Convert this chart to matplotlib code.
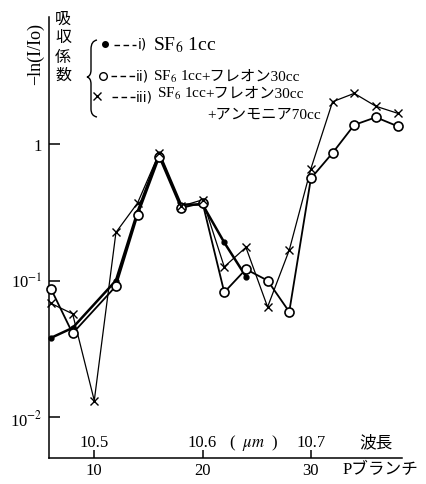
import matplotlib
matplotlib.use("Agg")
import matplotlib.pyplot as plt
from matplotlib.lines import Line2D
from matplotlib.path import Path
from matplotlib.patches import PathPatch

plt.rcParams['font.family'] = ['Liberation Serif', 'Noto Sans CJK JP']
plt.rcParams['mathtext.fontset'] = 'stix'

# P branch line numbers and absorption coefficient -ln(I/Io)
p_i = [6, 8, 12, 14, 16, 18, 20, 22, 24]
v_i = [0.038, 0.045, 0.10, 0.32, 0.85, 0.36, 0.36, 0.19, 0.107]

p_ii = [6, 8, 12, 14, 16, 18, 20, 22, 24, 26, 28, 30, 32, 34, 36, 38]
v_ii = [0.087, 0.041, 0.091, 0.30, 0.80, 0.34, 0.37, 0.082, 0.121, 0.100,
        0.059, 0.56, 0.86, 1.38, 1.57, 1.35]

p_iii = [6, 8, 10, 12, 14, 16, 18, 20, 22, 24, 26, 28, 30, 32, 34, 36, 38]
v_iii = [0.068, 0.057, 0.0132, 0.225, 0.37, 0.86, 0.35, 0.39, 0.126, 0.175,
         0.064, 0.167, 0.66, 2.04, 2.35, 1.89, 1.68]

p_ticks = [10, 20, 30]
p_labels = ['10', '20', '30']
wl_labels = ['10.5', '10.6', '10.7']
y_ticks = [0.01, 0.1, 1]
y_labels = ['10$^{-2}$', '10$^{-1}$', '1']

W, H = 427, 485
fig = plt.figure(figsize=(W / 100, H / 100), dpi=100)
ax = fig.add_axes([49 / W, 26 / H, (402 - 49) / W, (459 - 18) / H])


def fx(px):
    return px / W


def fy(py):
    return 1 - py / H


ax.plot(p_i, v_i, color='black', lw=1.8, zorder=2, clip_on=False)
ax.plot(p_ii, v_ii, color='black', lw=1.3, zorder=2, clip_on=False)
ax.plot(p_iii, v_iii, color='black', lw=0.9, zorder=2, clip_on=False)
ax.plot(p_i, v_i, 'o', color='black', ms=3.5, zorder=3, clip_on=False)
ax.plot(p_ii, v_ii, 'o', mfc='white', mec='black', mew=1.2, ms=6.5,
        zorder=4, clip_on=False)
ax.plot(p_iii, v_iii, 'x', color='black', mew=1.0, ms=6, zorder=5,
        clip_on=False)

ax.set_yscale('log')
ax.set_ylim(0.00501, 8.52)
ax.set_xlim(5.82, 38.41)
ax.minorticks_off()
ax.set_yticks(y_ticks)
ax.set_yticklabels(y_labels, fontsize=12)
ax.set_xticks(p_ticks)
ax.set_xticklabels(p_labels, fontsize=12)
ax.tick_params(axis='y', direction='in', length=8, width=1.1, pad=5)
ax.tick_params(axis='x', direction='in', length=6, width=1.1, pad=3)
for s in ['top', 'right']:
    ax.spines[s].set_visible(False)
for s in ['left', 'bottom']:
    ax.spines[s].set_linewidth(1.1)

for xt, lab in zip(p_ticks, wl_labels):
    ax.text(xt, 0.036, lab, transform=ax.get_xaxis_transform(),
            ha='center', va='center', fontsize=12)

fig.text(fx(254), fy(443), '(  $\\mathit{\\mu m}$  )', ha='center', va='center',
         fontsize=12)
fig.text(fx(376), fy(443), '波長', ha='center', va='center', fontsize=12)
fig.text(fx(380), fy(470), 'Pブランチ', ha='center', va='center', fontsize=12)

# y axis label
fig.text(fx(35), fy(54), '−ln(I/Io)', rotation=90, ha='center', va='center',
         fontsize=13)
for ch, py in zip('吸収係数', [20, 38, 58, 76]):
    fig.text(fx(63), fy(py), ch, ha='center', va='center', fontsize=11.5)

# legend
verts = [(97, 41), (91, 42), (91, 50), (91, 71), (91, 77), (87, 78),
         (91, 79), (91, 85), (91, 110), (91, 117), (97, 118)]
codes = [Path.MOVETO, Path.CURVE3, Path.CURVE3, Path.LINETO, Path.CURVE3,
         Path.CURVE3, Path.CURVE3, Path.CURVE3, Path.LINETO, Path.CURVE3,
         Path.CURVE3]
brace = Path([(fx(a), fy(b)) for a, b in verts], codes)
fig.add_artist(PathPatch(brace, fill=False, lw=1.0, transform=fig.transFigure))


def dashes(x0, x1, py):
    fig.add_artist(Line2D([fx(x0), fx(x1)], [fy(py), fy(py)], color='black',
                          lw=1.0, dashes=(4, 2.5), transform=fig.transFigure))


fig.add_artist(Line2D([fx(105)], [fy(45)], marker='o', color='black', ms=4,
                      transform=fig.transFigure))
dashes(114, 136, 46)
fig.text(fx(138), fy(45), 'i)', ha='left', va='center', fontsize=10,
         family='DejaVu Sans')
fig.text(fx(153), fy(45), 'SF$_6$ 1cc', ha='left', va='center', fontsize=14)

fig.add_artist(Line2D([fx(103)], [fy(77)], marker='o', mfc='white', mec='black',
                      mew=1.0, ms=5.5, transform=fig.transFigure))
dashes(111, 135, 77)
fig.text(fx(136), fy(77), 'ii)', ha='left', va='center', fontsize=10,
         family='DejaVu Sans')
fig.text(fx(153), fy(77), 'SF$_6$ 1cc', ha='left', va='center', fontsize=11)
fig.text(fx(201), fy(77), '+フレオン30cc', ha='left', va='center', fontsize=11)

fig.add_artist(Line2D([fx(97)], [fy(97)], marker='x', color='black', mew=1.0,
                      ms=6, transform=fig.transFigure))
dashes(112, 135, 98)
fig.text(fx(136), fy(98), 'iii)', ha='left', va='center', fontsize=10,
         family='DejaVu Sans')
fig.text(fx(157), fy(94), 'SF$_6$ 1cc', ha='left', va='center', fontsize=11)
fig.text(fx(205), fy(94), '+フレオン30cc', ha='left', va='center', fontsize=11)
fig.text(fx(207), fy(115), '+アンモニア70cc', ha='left', va='center', fontsize=11)

fig.savefig('out.png', dpi=100)
